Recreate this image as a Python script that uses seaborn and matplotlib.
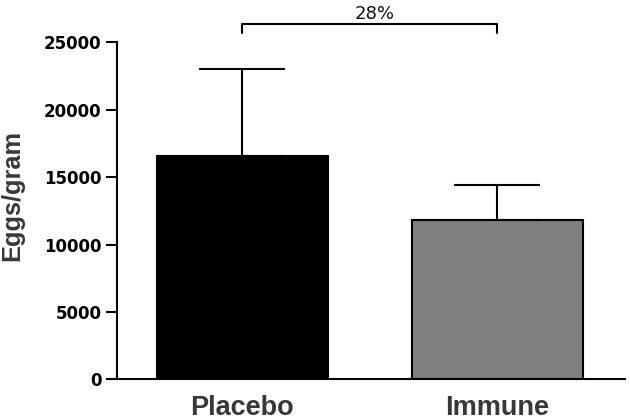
import matplotlib
matplotlib.use("Agg")
import matplotlib.pyplot as plt
import seaborn as sns
import pandas as pd

# values
groups = ["Placebo", "Immune"]
means = [16550, 11800]
sd_upper = [6450, 2600]
bar_colors = ["#000000", "#808080"]
yticks = [0, 5000, 10000, 15000, 20000, 25000]
pct_label = "28%"

sns.set_style("ticks")
plt.rcParams["font.family"] = ["Liberation Sans", "DejaVu Sans"]
plt.rcParams["axes.edgecolor"] = "black"
plt.rcParams["ytick.color"] = "black"

df = pd.DataFrame({"group": groups, "eggs": means})

fig = plt.figure(figsize=(6.3, 4.2), dpi=100)
ax = fig.add_axes([117 / 630, (420 - 379.3) / 420, 508 / 630, 337 / 420])

sns.barplot(data=df, x="group", y="eggs", hue="group", palette=bar_colors,
            width=0.67, edgecolor="black", linewidth=1.5, errorbar=None,
            legend=False, ax=ax)

# upper-only error bars
ax.errorbar(range(len(groups)), means, yerr=[[0] * len(groups), sd_upper],
            fmt="none", ecolor="black", elinewidth=1.5, capsize=31,
            capthick=1.5, zorder=1)

ax.set_xlim(-0.49, 1.5)
ax.set_ylim(0, 25000)
ax.set_yticks(yticks)
ax.set_yticklabels([str(t) for t in yticks], fontsize=12, fontweight="bold",
                   family="DejaVu Sans", color="black")
ax.set_xticks(range(len(groups)))
ax.set_xticklabels(groups, fontsize=19.5, fontweight="bold", color="#383838")
ax.tick_params(axis="x", length=0, pad=11)
ax.tick_params(axis="y", length=8, width=1.5, pad=3)
ax.set_xlabel("")
ax.set_ylabel("Eggs/gram", fontsize=18.3, fontweight="bold", color="#383838")
ax.yaxis.set_label_coords(-0.183, 0.547)

for side in ["top", "right"]:
    ax.spines[side].set_visible(False)
for side in ["left", "bottom"]:
    ax.spines[side].set_linewidth(1.5)

# comparison bracket above the bars
top = 26350
tip = 25700
ax.plot([0, 0, 1, 1], [tip, top, top, tip], color="black", lw=1.5,
        clip_on=False)
ax.text(0.518, top + 90, pct_label, ha="center", va="bottom", fontsize=13,
        family="DejaVu Sans", color="#111111", clip_on=False)

fig.savefig("out.png", dpi=100)
